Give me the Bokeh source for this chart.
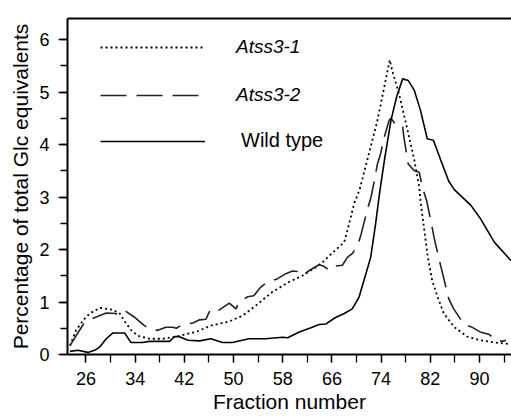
from bokeh.plotting import figure
from bokeh.models import Range1d, FixedTicker, LinearAxis, Legend, LegendItem
from bokeh.embed import file_html
from bokeh.resources import INLINE

# ---- data ----
wt_x = [23.4, 24.7, 26.3, 27.4, 28.2, 29.3, 30.4, 32.3, 33.3, 35.2, 36.3, 39.6, 40.4, 41.2, 42.6,
        44.5, 46.3, 48.2, 49.8, 52.5, 55.2, 58.0, 58.8, 60.7, 62.6, 63.9, 65.0, 66.5, 68.0, 69.3,
        70.4, 71.2, 72.3, 73.1, 73.8, 74.6, 75.6, 76.5, 77.5, 78.4, 79.4, 80.4, 81.5, 82.5, 83.7,
        85.0, 85.9, 88.6, 90.2, 92.4, 95.1]
wt_y = [0.06, 0.08, 0.04, 0.08, 0.14, 0.30, 0.41, 0.41, 0.23, 0.23, 0.25, 0.25, 0.34, 0.34, 0.27,
        0.26, 0.30, 0.23, 0.23, 0.30, 0.30, 0.33, 0.32, 0.43, 0.51, 0.57, 0.58, 0.70, 0.78, 0.87,
        1.09, 1.41, 1.85, 2.49, 3.12, 3.75, 4.46, 4.90, 5.25, 5.22, 5.03, 4.65, 4.11, 4.08, 3.70,
        3.30, 3.14, 2.84, 2.58, 2.14, 1.79]

a1_x = [23.4, 24.4, 25.6, 26.6, 28.3, 30.4, 31.5, 32.3, 33.3, 34.4, 36.3, 38.5, 40.7, 42.3, 43.9,
        46.3, 49.3, 51.5, 53.6, 56.3, 59.0, 61.2, 63.4, 64.5, 66.2, 68.0, 68.8, 69.6, 70.5, 72.0,
        73.4, 74.5, 75.4, 75.8, 76.9, 78.3, 79.4, 80.2, 80.4, 81.1, 81.6, 82.3, 83.2, 84.2, 85.9,
        88.0, 90.2, 92.4, 94.8]
a1_y = [0.17, 0.46, 0.66, 0.78, 0.89, 0.85, 0.78, 0.63, 0.47, 0.36, 0.30, 0.30, 0.34, 0.39, 0.43,
        0.55, 0.63, 0.74, 0.93, 1.19, 1.38, 1.50, 1.66, 1.76, 1.95, 2.14, 2.49, 2.87, 3.14, 3.82,
        4.46, 5.09, 5.61, 5.41, 4.97, 4.27, 3.70, 3.19, 2.93, 2.30, 1.85, 1.41, 1.09, 0.78, 0.52,
        0.34, 0.27, 0.23, 0.20]

a2_x = [23.4, 25.6, 27.0, 29.3, 30.9, 31.3, 32.5, 33.9, 35.2, 36.1, 37.7, 39.0, 40.1, 40.7, 41.7,
        43.4, 44.5, 45.5, 46.3, 47.7, 49.3, 50.4, 50.9, 52.3, 53.3, 54.4, 55.5, 57.1, 58.5, 59.6,
        60.4, 61.2, 62.3, 63.9, 64.7, 65.5, 66.1, 67.7, 68.5, 69.3, 70.2, 70.7, 71.8, 72.3, 72.9,
        73.4, 73.9, 74.5, 75.3, 75.6, 76.7, 77.5, 77.7, 78.4, 79.4, 80.2, 80.7, 81.4, 82.3, 82.6,
        83.6, 84.0, 85.0, 85.8, 87.5, 88.6, 90.1, 91.6, 92.6, 93.7, 94.3]
a2_y = [0.17, 0.58, 0.68, 0.79, 0.78, 0.74, 0.82, 0.71, 0.58, 0.50, 0.46, 0.52, 0.52, 0.50, 0.57,
        0.60, 0.66, 0.67, 0.87, 0.85, 0.98, 0.87, 1.00, 1.10, 1.12, 1.28, 1.38, 1.44, 1.54, 1.59,
        1.58, 1.50, 1.60, 1.71, 1.68, 1.61, 1.68, 1.70, 1.85, 1.92, 2.08, 2.27, 2.78, 2.97, 3.31,
        3.63, 3.82, 4.14, 4.46, 4.50, 4.33, 4.34, 4.14, 3.63, 3.50, 3.47, 3.19, 2.93, 2.42, 2.23,
        1.73, 1.54, 1.06, 0.87, 0.57, 0.53, 0.43, 0.38, 0.28, 0.25, 0.27]

x_major_ticks = [26, 34, 42, 50, 58, 66, 74, 82, 90]
x_minor_ticks = [26, 30, 34, 38, 42, 46, 50, 54, 58, 62, 66, 70, 74, 78, 82, 86, 90, 94]
y_major_ticks = [0, 1, 2, 3, 4, 5, 6]
y_minor_ticks = [0, 0.5, 1, 1.5, 2, 2.5, 3, 3.5, 4, 4.5, 5, 5.5, 6]

labels = ["Atss3-1", "Atss3-2", "Wild type"]
x_title = "Fraction number"
y_title = "Percentage of total Glc equivalents"

FONT = "Liberation Sans"

p = figure(width=511, height=418, x_range=Range1d(23, 95.2), y_range=Range1d(0, 6.4),
           output_backend="svg", toolbar_location=None,
           min_border_left=67, min_border_right=0, min_border_top=18, min_border_bottom=64)
p.outline_line_color = None
p.xgrid.visible = False
p.ygrid.visible = False
p.background_fill_color = "white"
p.border_fill_color = "white"

p.xaxis.ticker = FixedTicker(ticks=x_major_ticks, minor_ticks=x_minor_ticks)
p.yaxis.ticker = FixedTicker(ticks=y_major_ticks, minor_ticks=y_minor_ticks)

for ax in (p.xaxis[0], p.yaxis[0]):
    ax.axis_line_width = 2
    ax.axis_line_color = "black"
    ax.major_tick_line_color = "black"
    ax.minor_tick_line_color = "black"
    ax.major_tick_line_width = 1.3
    ax.minor_tick_line_width = 1.3
    ax.major_tick_in = 0
    ax.minor_tick_in = 0
    ax.major_label_text_font = FONT
    ax.major_label_text_font_size = "18px"
    ax.major_label_text_color = "black"
    ax.axis_label_text_font = FONT
    ax.axis_label_text_font_size = "21px"
    ax.axis_label_text_font_style = "normal"
    ax.axis_label_text_color = "black"

p.xaxis.major_tick_out = 8
p.xaxis.minor_tick_out = 8
p.xaxis.major_label_standoff = 9
p.xaxis.axis_label = x_title
p.xaxis.axis_label_standoff = 2

p.yaxis.major_tick_out = 9
p.yaxis.minor_tick_out = 7
p.yaxis.major_label_standoff = 9
p.yaxis.axis_label = y_title
p.yaxis.axis_label_standoff = 4

top = LinearAxis(ticker=FixedTicker(ticks=[]), major_label_text_font_size="0px",
                 major_tick_out=0, major_tick_in=0, minor_tick_out=0, minor_tick_in=0,
                 major_label_standoff=0, axis_line_width=2, axis_line_color="black")
p.add_layout(top, "above")

r1 = p.line(a1_x, a1_y, line_color="black", line_width=1.8, line_dash="2 3")
r2 = p.line(a2_x, a2_y, line_color="#222222", line_width=1.6, line_dash="26 10")
r3 = p.line(wt_x, wt_y, line_color="black", line_width=1.6)

common = dict(glyph_width=105, glyph_height=20, label_height=20, spacing=26,
              padding=0, margin=0, border_line_color=None, background_fill_alpha=0,
              label_text_font=FONT, label_text_color="black")

leg1 = Legend(items=[LegendItem(label=labels[0], renderers=[r1]),
                     LegendItem(label=labels[1], renderers=[r2])],
              location=(33, 248), label_standoff=31, label_text_font_style="italic",
              label_text_font_size="19px", **common)
leg2 = Legend(items=[LegendItem(label=labels[2], renderers=[r3])],
              location=(33, 202), label_standoff=36, label_text_font_style="normal",
              label_text_font_size="20px", **common)
p.add_layout(leg1)
p.add_layout(leg2)

open("out.html", "w").write(file_html(p, INLINE))
